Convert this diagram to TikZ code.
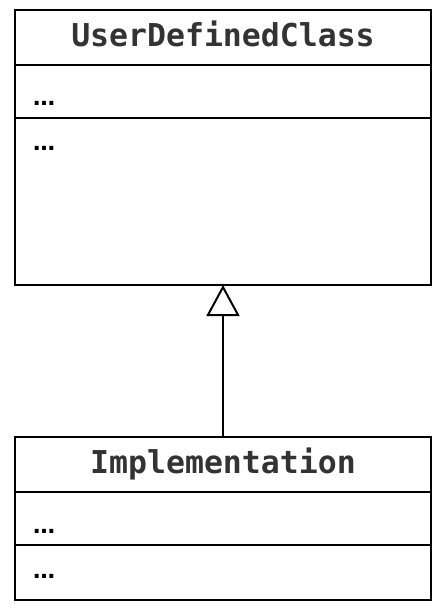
\documentclass[tikz,border=0pt]{standalone}
\usepackage{fontspec}
\setmainfont{DejaVu Sans}
\newfontfamily\umlmono{DejaVu Sans Mono}
\usetikzlibrary{arrows.meta, positioning}
\definecolor{titlegray}{HTML}{333333}

\begin{document}
\begin{tikzpicture}[
      x=1pt, y=-1pt,
      node distance = 0pt,
      classname/.style = {draw, line width=2pt, outer sep=0pt, minimum width=416pt,
                          minimum height=55pt, text=titlegray,
                          text height=24pt, text depth=7pt,
                          font=\umlmono\bfseries\fontsize{31.5}{36}\selectfont},
      compart/.style   = {draw, line width=2pt, outer sep=0pt, minimum width=416pt},
      dots/.style      = {anchor=base west, inner sep=0pt,
                          font=\bfseries\fontsize{22}{26}\selectfont},
      inherit/.style   = {-{Triangle[open, length=31pt, width=33pt, line width=2pt]},
                          line width=2pt},
    ]

    \useasboundingbox (0,0) rectangle (443,611);

    % parent class
    \node[classname] (udcname) at (223,37.5) {UserDefinedClass};
    \node[compart, minimum height=53pt, below=of udcname]  (udcattr) {};
    \node[compart, minimum height=167pt, below=of udcattr] (udcops)  {};

    % child class
    \node[classname] (implname) at (223,464.5) {Implementation};
    \node[compart, minimum height=53pt, below=of implname] (implattr) {};
    \node[compart, minimum height=55pt, below=of implattr] (implops)  {};

    % compartment contents
    \node[dots] (udcattrtxt)  at ([xshift=18pt, yshift=-40pt]udcattr.north west)  {…};
    \node[dots] (udcopstxt)   at ([xshift=18pt, yshift=-32pt]udcops.north west)   {…};
    \node[dots] (implattrtxt) at ([xshift=18pt, yshift=-41pt]implattr.north west) {…};
    \node[dots] (implopstxt)  at ([xshift=18pt, yshift=-33pt]implops.north west)  {…};

    \draw[inherit] (implname) -- (udcops);

  \end{tikzpicture}
\end{document}
